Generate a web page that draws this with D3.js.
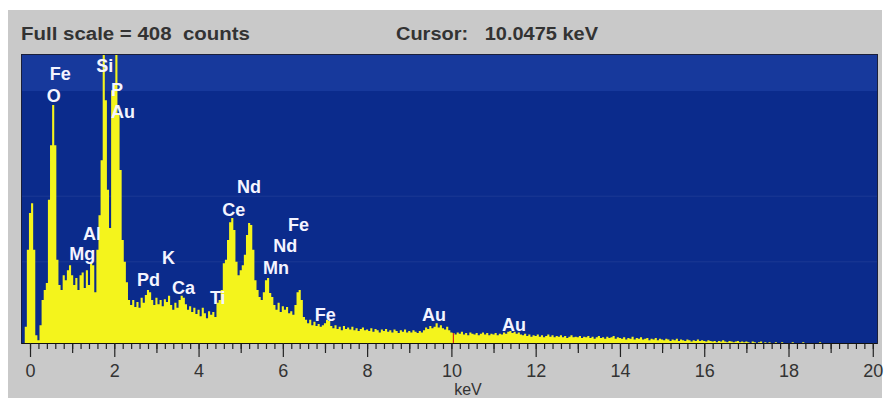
<!DOCTYPE html>
<html>
<head>
<meta charset="utf-8">
<script src="https://cdn.jsdelivr.net/npm/d3@7"></script>
<style>
  body { margin: 0; background: #ffffff; }
  svg { display: block; }
  text { white-space: pre; }
</style>
</head>
<body>
<svg id="chart" width="884" height="398"></svg>
<script>
// spectrum: channel calibration (keV) and counts per channel
const channelStart = -0.15
const channelWidth = 0.05
const fullScale = 408
const cursorKeV = 10.0475

const counts = [
    0, 23, 132,
    184, 198, 132, 11, 4, 25, 61, 75, 85, 203, 280, 337, 280, 118, 82, 75, 96, 89, 103, 110,
    96, 82, 92, 75, 96, 100, 78, 103, 82, 115, 110, 72, 132, 181, 259, 430, 344, 217, 163, 358,
    365, 430, 323, 245, 146, 115, 86, 61, 54, 61, 51, 58, 50, 64, 57, 68, 75, 72, 61, 54,
    64, 55, 61, 52, 62, 58, 67, 54, 47, 57, 50, 61, 67, 64, 55, 47, 52, 44, 50, 41,
    47, 38, 50, 42, 35, 45, 40, 44, 37, 57, 61, 75, 113, 118, 146, 171, 177, 160, 115, 96,
    103, 110, 125, 153, 170, 167, 132, 89, 75, 65, 61, 72, 89, 92, 71, 65, 54, 47, 57, 44,
    52, 47, 51, 42, 45, 40, 54, 72, 75, 61, 37, 33, 28, 33, 25, 30, 24, 27, 23, 25,
    28, 33, 31, 24, 21, 25, 20, 23, 18, 24, 20, 22, 19, 23, 18, 21, 17, 20, 22, 18,
    19, 17, 21, 16, 20, 18, 15, 19, 17, 20, 16, 18, 15, 19, 17, 14, 18, 16, 19, 15,
    17, 15, 18, 16, 14, 17, 15, 18, 22, 20, 24, 21, 23, 28, 22, 25, 21, 19, 23, 18,
    15, 14, 12, 15, 13, 16, 12, 14, 11, 15, 13, 12, 14, 11, 13, 15, 12, 14, 11, 13,
    12, 14, 11, 13, 12, 15, 13, 16, 17, 14, 16, 13, 15, 12, 11, 13, 10, 12, 9, 11,
    10, 12, 9, 11, 8, 10, 12, 9, 11, 8, 10, 9, 11, 8, 10, 7, 9, 11, 8, 9,
    8, 10, 7, 9, 8, 10, 7, 9, 6, 8, 10, 7, 8, 6, 9, 7, 8, 10, 6, 8,
    7, 6, 8, 5, 7, 6, 9, 5, 7, 6, 8, 5, 6, 7, 4, 6, 5, 7, 4, 6,
    5, 4, 6, 5, 3, 5, 4, 6, 3, 5, 4, 3, 5, 4, 2, 4, 3, 5, 3, 4,
    3, 2, 4, 3, 2, 3, 1, 3, 2, 4, 2, 1, 3, 2, 1, 2, 3, 1, 2, 1,
    2, 1, 0, 2, 1, 0, 1, 2, 0, 1, 0, 1, 0, 0, 1, 0, 0, 1, 0, 0,
    0, 0, 1, 0, 0, 0, 0, 1, 0, 0, 0, 0, 0, 0, 0, 1, 0, 0, 0, 0,
    0, 0, 0, 0, 0, 0, 0, 0, 0, 0, 0, 0, 0, 0, 0, 0, 0, 0, 0, 0,
    0
]

const tickLabels = ["0", "2", "4", "6", "8", "10", "12", "14", "16", "18", "20"]

// element labels: name, keV and count level the label sits at
const peakNames = ["Fe", "O", "Si", "P", "Au", "Al", "Mg", "Pd", "K", "Ca", "Ti", "Ce", "Nd", "Mn", "Nd", "Fe", "Fe", "Au", "Au"]
const peakKeV = [0.47, 0.40, 1.57, 1.92, 1.92, 1.26, 0.93, 2.54, 3.13, 3.37, 4.27, 4.56, 4.91, 5.53, 5.77, 6.12, 6.76, 9.30, 11.20]
const peakLevel = [373, 341, 384, 350, 319, 146, 118, 81, 112, 69, 55, 180, 212, 98, 129, 159, 31, 31, 17]

const svg = d3.select("#chart")

let plotLeft = 22, plotRight = 877, plotTop = 55, plotBottom = 343

let x = d3.scaleLinear().domain([-0.19, 20.1]).range([plotLeft, plotRight])
let y = d3.scaleLinear().domain([0, fullScale]).range([plotBottom, plotTop])

// grey panel
svg.append("rect")
    .attr("x", 8).attr("y", 10)
    .attr("width", 874).attr("height", 388)
    .attr("fill", "#c9c9c9")

svg.append("text")
    .attr("x", 21).attr("y", 40)
    .attr("font-family", "Liberation Sans, Arial, sans-serif")
    .attr("font-weight", "bold")
    .attr("font-size", 18)
    .attr("fill", "#333")
    .attr("textLength", 229)
    .attr("lengthAdjust", "spacingAndGlyphs")
    .text("Full scale = " + fullScale + "  counts")

svg.append("text")
    .attr("x", 396).attr("y", 40)
    .attr("font-family", "Liberation Sans, Arial, sans-serif")
    .attr("font-weight", "bold")
    .attr("font-size", 18)
    .attr("fill", "#333")
    .attr("textLength", 202)
    .attr("lengthAdjust", "spacingAndGlyphs")
    .text("Cursor:   " + cursorKeV + " keV")

// plot background
svg.append("rect")
    .attr("x", plotLeft).attr("y", plotTop)
    .attr("width", plotRight - plotLeft).attr("height", plotBottom - plotTop)
    .attr("fill", "#0b2b8c")

svg.append("rect")
    .attr("x", plotLeft).attr("y", plotTop)
    .attr("width", plotRight - plotLeft).attr("height", y(357) - plotTop)
    .attr("fill", "#17399c")

svg.selectAll(".faint")
    .data([115, 208])
    .join("line")
    .attr("class", "faint")
    .attr("x1", plotLeft).attr("x2", plotRight)
    .attr("y1", d => y(d)).attr("y2", d => y(d))
    .attr("stroke", "#ffffff")
    .attr("stroke-opacity", 0.07)

svg.append("clipPath").attr("id", "plotClip")
    .append("rect")
    .attr("x", plotLeft).attr("y", plotTop)
    .attr("width", plotRight - plotLeft).attr("height", plotBottom - plotTop)

let spectrum = counts.map((c, i) => ({ e: channelStart + i * channelWidth, c: c }))

let area = d3.area()
    .x(d => x(d.e))
    .y0(plotBottom)
    .y1(d => y(d.c))
    .curve(d3.curveStep)

svg.append("path")
    .datum(spectrum)
    .attr("clip-path", "url(#plotClip)")
    .attr("fill", "#f4f41c")
    .attr("d", area)

// cursor marker inside the fill
let cursorIdx = Math.round((cursorKeV - channelStart) / channelWidth)
svg.append("line")
    .attr("x1", x(cursorKeV)).attr("x2", x(cursorKeV))
    .attr("y1", plotBottom).attr("y2", y(counts[cursorIdx]))
    .attr("stroke", "#d8281c")
    .attr("stroke-width", 1.2)

svg.selectAll(".peak")
    .data(peakNames)
    .join("text")
    .attr("class", "peak")
    .attr("x", (d, i) => x(peakKeV[i]))
    .attr("y", (d, i) => y(peakLevel[i]))
    .attr("font-family", "Liberation Sans, Arial, sans-serif")
    .attr("font-weight", "bold")
    .attr("font-size", 18)
    .attr("fill", "#f4f4ff")
    .text(d => d)

// frame
svg.append("rect")
    .attr("x", plotLeft - 0.5).attr("y", plotTop - 0.5)
    .attr("width", plotRight - plotLeft + 1).attr("height", plotBottom - plotTop + 1)
    .attr("fill", "none")
    .attr("stroke", "#1a1f3a")

// axis: minor every 0.2, medium every 1, major every 2
let axisG = svg.append("g").attr("transform", "translate(0," + plotBottom + ")")

axisG.append("g")
    .call(d3.axisBottom(x).tickValues(d3.range(0, 100.5, 1).map(v => v / 5)).tickSize(6).tickFormat(""))
axisG.append("g")
    .call(d3.axisBottom(x).tickValues(d3.range(1, 20, 2)).tickSize(10).tickFormat(""))
axisG.append("g")
    .call(d3.axisBottom(x).tickValues(tickLabels.map(Number)).tickSize(14).tickPadding(7).tickFormat((d, i) => tickLabels[i]))

axisG.selectAll(".domain").attr("stroke", "#111").attr("d", "M" + plotLeft + ",0.5H" + plotRight)
axisG.selectAll(".tick line").attr("stroke", "#222").attr("stroke-width", 1.2)
axisG.selectAll(".tick text")
    .attr("font-family", "Liberation Sans, Arial, sans-serif")
    .attr("font-size", 18)
    .attr("fill", "#333")

svg.append("text")
    .attr("x", 468).attr("y", 395)
    .attr("text-anchor", "middle")
    .attr("font-family", "Liberation Sans, Arial, sans-serif")
    .attr("font-size", 16)
    .attr("fill", "#333")
    .text("keV")
</script>
</body>
</html>
